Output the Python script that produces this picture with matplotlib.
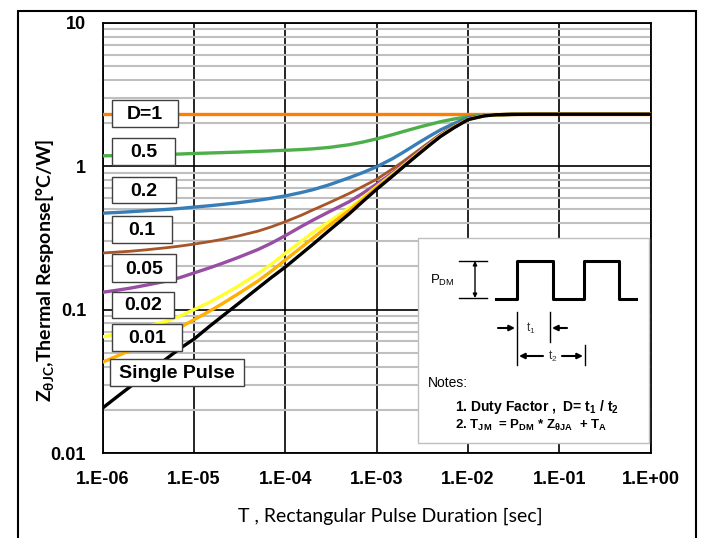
import numpy as np
import matplotlib.pyplot as plt
from matplotlib.patches import Rectangle
from matplotlib.ticker import LogLocator, NullFormatter

plt.rcParams['mathtext.default'] = 'regular'

# pulse duration [sec]
t = [1e-6, 1.5e-6, 2e-6, 3e-6, 5e-6, 7e-6, 1e-5, 1.5e-5, 2e-5, 3e-5, 5e-5, 7e-5,
     1e-4, 1.5e-4, 2e-4, 3e-4, 5e-4, 7e-4, 1e-3, 1.5e-3, 2e-3, 3e-3, 4e-3, 5e-3,
     7e-3, 1e-2, 1.5e-2, 2e-2, 3e-2, 5e-2, 1e-1, 1.0]

# thermal response [C/W] per duty cycle
z_d05 = [1.180, 1.185, 1.190, 1.196, 1.205, 1.215, 1.225, 1.235, 1.242, 1.252, 1.267, 1.278,
         1.29, 1.305, 1.32, 1.35, 1.41, 1.47, 1.55, 1.66, 1.75, 1.88, 1.97, 2.04,
         2.13, 2.21, 2.26, 2.28, 2.295, 2.30, 2.30, 2.30]
z_d02 = [0.470, 0.476, 0.481, 0.489, 0.499, 0.507, 0.518, 0.530, 0.540, 0.555, 0.578, 0.597,
         0.620, 0.655, 0.685, 0.74, 0.83, 0.90, 0.99, 1.13, 1.26, 1.48, 1.65, 1.79,
         1.98, 2.17, 2.26, 2.28, 2.295, 2.30, 2.30, 2.30]
z_d01 = [0.248, 0.252, 0.255, 0.261, 0.270, 0.277, 0.286, 0.298, 0.308, 0.325, 0.352, 0.377,
         0.41, 0.455, 0.495, 0.555, 0.645, 0.72, 0.81, 0.96, 1.09, 1.32, 1.51, 1.67,
         1.90, 2.14, 2.25, 2.28, 2.295, 2.30, 2.30, 2.30]
z_d005 = [0.132, 0.137, 0.141, 0.148, 0.158, 0.167, 0.180, 0.196, 0.209, 0.23, 0.262, 0.29,
          0.328, 0.38, 0.42, 0.48, 0.565, 0.645, 0.75, 0.90, 1.04, 1.28, 1.48, 1.64,
          1.88, 2.13, 2.25, 2.28, 2.295, 2.30, 2.30, 2.30]
z_d002 = [0.0645, 0.068, 0.071, 0.076, 0.083, 0.090, 0.100, 0.113, 0.125, 0.145, 0.178, 0.207,
          0.247, 0.30, 0.345, 0.41, 0.51, 0.60, 0.72, 0.88, 1.02, 1.26, 1.46, 1.63,
          1.87, 2.12, 2.25, 2.28, 2.295, 2.30, 2.30, 2.30]
z_d001 = [0.043, 0.048, 0.052, 0.058, 0.067, 0.075, 0.085, 0.098, 0.109, 0.128, 0.158, 0.185,
          0.222, 0.272, 0.315, 0.385, 0.49, 0.585, 0.71, 0.87, 1.01, 1.25, 1.45, 1.62,
          1.86, 2.12, 2.25, 2.28, 2.295, 2.30, 2.30, 2.30]
z_single = [0.0206, 0.0252, 0.029, 0.0355, 0.0455, 0.0535, 0.0623, 0.077, 0.089, 0.109, 0.141, 0.167,
            0.198, 0.245, 0.285, 0.355, 0.465, 0.565, 0.69, 0.855, 1.00, 1.24, 1.44, 1.61,
            1.85, 2.11, 2.24, 2.28, 2.295, 2.30, 2.30, 2.30]
t_d1 = [1e-6, 1.0]
z_d1 = [2.30, 2.30]

x_ticks = [1e-6, 1e-5, 1e-4, 1e-3, 1e-2, 1e-1, 1e0]
x_labels = ['1.E-06', '1.E-05', '1.E-04', '1.E-03', '1.E-02', '1.E-01', '1.E+00']
y_ticks = [0.01, 0.1, 1, 10]
y_labels = ['0.01', '0.1', '1', '10']

W, H = 702, 538
fig = plt.figure(figsize=(W / 100, H / 100), dpi=100)
ax = fig.add_axes([102.7 / W, 1 - 453 / H, 548 / W, 430.3 / H])

ax.plot(t_d1, z_d1, color='#FF7F00', lw=2.4, zorder=3)
ax.plot(t, z_d05, color='#4DAF4A', lw=2.4, zorder=3)
ax.plot(t, z_d02, color='#377EB8', lw=2.4, zorder=3)
ax.plot(t, z_d01, color='#A65628', lw=2.0, zorder=3)
ax.plot(t, z_d005, color='#984EA3', lw=2.4, zorder=3)
ax.plot(t, z_d002, color='#FFFF33', lw=2.4, zorder=3)
ax.plot(t, z_d001, color='#FFB000', lw=2.4, zorder=3)
ax.plot(t, z_single, color='black', lw=2.4, zorder=4)

ax.set_xscale('log')
ax.set_yscale('log')
ax.set_xlim(1e-6, 1)
ax.set_ylim(0.01, 10)

ax.set_xticks(x_ticks)
ax.set_xticklabels(x_labels)
ax.set_yticks(y_ticks)
ax.set_yticklabels(y_labels)
ax.xaxis.set_minor_locator(plt.NullLocator())
ax.yaxis.set_minor_locator(LogLocator(base=10, subs=np.arange(2, 10)))
ax.yaxis.set_minor_formatter(NullFormatter())
ax.tick_params(which='both', length=0)
ax.tick_params(axis='x', pad=13)
ax.tick_params(axis='y', pad=12)
for lab in ax.get_xticklabels() + ax.get_yticklabels():
    lab.set_fontfamily('Liberation Sans')
    lab.set_fontweight('bold')
    lab.set_fontsize(13)

ax.grid(True, which='minor', axis='y', color='#BFBFBF', lw=1.5)
ax.grid(True, which='major', color='black', lw=1.2)
ax.set_axisbelow(True)
for s in ax.spines.values():
    s.set_linewidth(1.3)

ax.set_xlabel('T , Rectangular Pulse Duration [sec]', family='Lato', fontsize=14)
ax.xaxis.set_label_coords(0.524, -0.148)
ax.xaxis.label.set_va('center')
ax.set_ylabel('Z$_{θJC}$,Thermal Response[°C/W]', family='Lato', fontweight='bold', fontsize=14)
ax.yaxis.set_label_coords(-0.106, 0.425)
ax.yaxis.label.set_va('center')

# outer frame
fig.patches.append(Rectangle((18 / W, -0.05), 678 / W, 1 - 11 / H + 0.05,
                             transform=fig.transFigure, fill=False, ec='black', lw=1.5))

# overlay in pixel coords for curve labels and notes box
ov = fig.add_axes([0, 0, 1, 1], zorder=5)
ov.set_xlim(0, W)
ov.set_ylim(H, 0)
ov.axis('off')

boxes = [(112, 100, 178, 127, 'D=1'), (112, 138, 175, 165, '0.5'),
         (112, 177, 176, 203, '0.2'), (112, 216, 172, 243, '0.1'),
         (112, 254, 176, 282, '0.05'), (112, 292, 174, 318, '0.02'),
         (112, 324, 182, 351, '0.01'), (110, 359, 244, 386, 'Single Pulse')]
for x0, y0, x1, y1, txt in boxes:
    ov.add_patch(Rectangle((x0, y0), x1 - x0, y1 - y0, fc='white', ec='#404040', lw=1))
    ov.text((x0 + x1) / 2, (y0 + y1) / 2 + 1, txt, ha='center', va='center',
            family='Liberation Sans', fontweight='bold', fontsize=14)

# notes box
ov.add_patch(Rectangle((418, 238), 231, 205, fc='white', ec='#BFBFBF', lw=1))
ov.plot([496, 517, 517, 553, 553, 584, 584, 619, 619, 636],
        [299, 299, 261, 261, 299, 299, 261, 261, 299, 299], color='black', lw=2.2)
ov.plot([459, 487], [261, 261], color='black', lw=1)
ov.plot([459, 487], [298, 298], color='black', lw=1)
ov.annotate('', xy=(475, 261), xytext=(475, 298),
            arrowprops=dict(arrowstyle='<|-|>', color='black', lw=1, mutation_scale=6,
                            shrinkA=0, shrinkB=0))
ov.text(430, 280, 'P$_{DM}$', ha='left', va='center', family='Liberation Sans', fontsize=9.5)

ov.plot([517, 517], [312, 365], color='black', lw=1)
ov.plot([550, 550], [312, 342], color='black', lw=1)
ov.plot([585, 585], [345, 365], color='black', lw=1)
arw = dict(arrowstyle='-|>', color='black', lw=1.5, mutation_scale=8, shrinkA=0, shrinkB=0)
ov.annotate('', xy=(515, 328), xytext=(498, 328), arrowprops=arw)
ov.annotate('', xy=(552, 328), xytext=(567, 328), arrowprops=arw)
ov.text(531, 328, 't$_1$', ha='center', va='center', family='Liberation Sans', fontsize=8.5, color='#333333')
ov.annotate('', xy=(519, 356), xytext=(543, 356), arrowprops=arw)
ov.annotate('', xy=(583, 356), xytext=(562, 356), arrowprops=arw)
ov.text(553, 356, 't$_2$', ha='center', va='center', family='Liberation Sans', fontsize=8.5, color='#333333')

ov.text(428, 383, 'Notes:', ha='left', va='center', family='Liberation Sans', fontsize=10)
ov.text(455, 407, '1. Duty Factor ,  D= t$_1$ / t$_2$', ha='left', va='center',
        family='Liberation Sans', fontweight='bold', fontsize=10)
ov.text(455, 425, '2. T$_{JM}$  = P$_{DM}$ * Z$_{θJA}$  + T$_A$', ha='left', va='center',
        family='Liberation Sans', fontweight='bold', fontsize=9.5)

fig.savefig('out.png', dpi=100)
